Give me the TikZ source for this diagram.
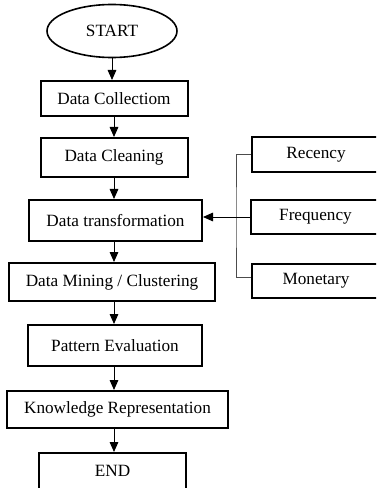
\documentclass[tikz,border=0pt]{standalone}
\usepackage{fontspec}
\setmainfont{Liberation Serif}
\usetikzlibrary{shapes.geometric,arrows.meta}

\tikzset{every picture/.style={line width=0.75pt}}
\tikzset{
  stepbox/.style={draw, line width=1.5pt, rectangle, inner sep=0pt, align=center, font=\fontsize{12.9}{15}\selectfont},
  termbox/.style={draw, line width=1.2pt, ellipse, inner sep=0pt, font=\fontsize{12.9}{15}\selectfont},
  flow/.style={-{Triangle[width=6.5pt,length=7.5pt]}, line width=0.75pt},
  bracket/.style={draw=black!70, line width=0.6pt}
}

\begin{document}
\begin{tikzpicture}[x=0.75pt,y=0.75pt,yscale=-1,xscale=1]
%set diagram area: 376 wide, 488 high
\useasboundingbox (0,0) rectangle (376,488);
\clip (0,0) rectangle (376,488);

%Shape: Ellipse [id:start]
\node [termbox, minimum width=130*0.75pt, minimum height=53*0.75pt] (start) at (112,31) {START};

%Shape: Rectangle [id:collect]
\node [stepbox, minimum width=147*0.75pt, minimum height=35*0.75pt] (collect) at (114,98.5) {Data Collectiom};
%Shape: Rectangle [id:clean]
\node [stepbox, minimum width=147*0.75pt, minimum height=39*0.75pt] (clean) at (114,157.5) {Data Cleaning};
%Shape: Rectangle [id:transform]
\node [stepbox, minimum width=173*0.75pt, minimum height=41*0.75pt] (transform) at (115.5,220.5) {Data transformation};
%Shape: Rectangle [id:mining]
\node [stepbox, minimum width=206*0.75pt, minimum height=38*0.75pt] (mining) at (112,282) {Data Mining / Clustering};
%Shape: Rectangle [id:pattern]
\node [stepbox, minimum width=174*0.75pt, minimum height=41*0.75pt] (pattern) at (115,345.5) {Pattern Evaluation};
%Shape: Rectangle [id:knowledge]
\node [stepbox, minimum width=221*0.75pt, minimum height=37*0.75pt] (knowledge) at (117.5,409.5) {Knowledge Representation};
%Shape: Rectangle [id:end]
\node [stepbox, minimum width=147*0.75pt, minimum height=60*0.75pt, anchor=north] (end) at (112.5,452) {};
% Text Node
\node [font=\fontsize{12.9}{15}\selectfont] (endtext) at (112.5,471) {END};

%Shape: Rectangle [id:recency]
\node [stepbox, minimum width=128*0.75pt, minimum height=35*0.75pt] (recency) at (316,154.5) {Recency};
%Shape: Rectangle [id:frequency]
\node [stepbox, minimum width=129*0.75pt, minimum height=34*0.75pt] (frequency) at (315.5,217) {Frequency};
%Shape: Rectangle [id:monetary]
\node [stepbox, minimum width=128*0.75pt, minimum height=34*0.75pt] (monetary) at (316,281) {Monetary};

%Straight Lines [id:main flow]
\draw [flow] (start) -- (start |- collect.north);
\draw [flow] (collect) -- (collect |- clean.north);
\draw [flow] (clean) -- (clean |- transform.north);
\draw [flow] (clean |- transform.south) -- (clean |- mining.north);
\draw [flow] (clean |- mining.south) -- (clean |- pattern.north);
\draw [flow] (clean |- pattern.south) -- (clean |- knowledge.north);
\draw [flow] (clean |- knowledge.south) -- (clean |- end.north);

%Shape: Bracket [id:rfm]
\coordinate (join) at (236,219);
\draw [bracket] (recency.west) -| (join) |- ([yshift=-3pt]monetary.west);
\draw [flow] (frequency.west) -- (transform.east |- frequency.west);

\end{tikzpicture}
\end{document}
